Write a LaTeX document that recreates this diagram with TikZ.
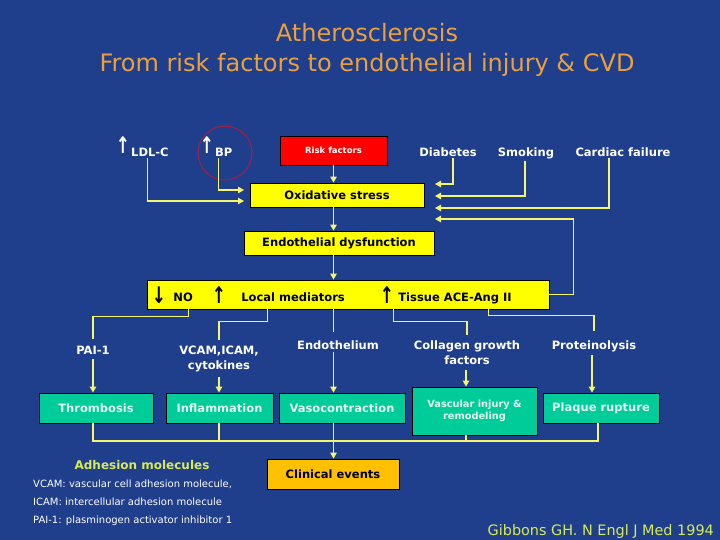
\documentclass[tikz,border=0pt]{standalone}
\usepackage{fontspec}
\setmainfont{DejaVu Sans}
\usepackage{graphicx}
\usetikzlibrary{arrows.meta,calc}

\definecolor{slidebg}{RGB}{31,62,140}
\definecolor{boxyel}{RGB}{255,255,0}
\definecolor{boxgreen}{RGB}{0,204,153}
\definecolor{boxred}{RGB}{255,0,0}
\definecolor{boxgold}{RGB}{255,192,0}
\definecolor{linkyel}{RGB}{245,245,110}
\definecolor{titleorange}{RGB}{235,160,60}
\definecolor{notegreen}{RGB}{215,235,90}
\definecolor{greentext}{RGB}{225,252,240}
\definecolor{ringred}{RGB}{165,30,70}

\newcommand{\uparr}{\scalebox{0.7}[0.95]{↑}}
\newcommand{\dnarr}{\scalebox{0.7}[0.95]{↓}}

\begin{document}
\begin{tikzpicture}[x=1pt, y=-1pt,
  link/.style={draw=linkyel, line width=1.1pt},
  flow/.style={link, -{Triangle[width=6.5pt,length=6pt]}},
  box/.style={draw=black, line width=0.8pt, inner sep=0pt, align=center,
    font=\bfseries\fontsize{11.5}{15}\selectfont},
  ybox/.style={box, fill=boxyel, text=black},
  gbox/.style={box, fill=boxgreen, text=greentext},
  lbl/.style={text=white, inner sep=1pt, align=center,
    font=\bfseries\fontsize{11.5}{15}\selectfont},
  sym/.style={inner sep=0pt, font=\bfseries\fontsize{24}{24}\selectfont},
  note/.style={text=white, font=\fontsize{10}{12}\selectfont, anchor=base west, inner sep=0pt}
]
\useasboundingbox[fill=slidebg] (0,0) rectangle (720,540);

% Title.
\node[text=titleorange, font=\fontsize{24}{28}\selectfont, anchor=base] (title1) at (367,42)
  {Atherosclerosis};
\node[text=titleorange, font=\fontsize{24}{28}\selectfont, anchor=base] (title2) at (367,72)
  {From risk factors to endothelial injury \& CVD};

% Risk factors row.
\node[sym, text=white, anchor=south] (ldlup) at (123,154) {\uparr};
\node[lbl, anchor=base west] (ldl) at (130,157) {LDL-C};
\node[sym, text=white, anchor=south] (bpup) at (207,154) {\uparr};
\node[lbl, anchor=base west] (bp) at (214,157) {BP};
\node[circle, draw=ringred, line width=1pt, minimum size=54, inner sep=0pt] (bpring) at (225,153) {};
\node[box, fill=boxred, text=white, minimum width=107, minimum height=29,
  font=\bfseries\fontsize{8.5}{10}\selectfont] (risk) at (333.5,150.5) {Risk factors};
\node[lbl, anchor=base] (diab) at (448,157) {Diabetes};
\node[lbl, anchor=base] (smok) at (526,157) {Smoking};
\node[lbl, anchor=base] (card) at (623,157) {Cardiac failure};

% Main chain.
\node[ybox, minimum width=174, minimum height=24] (ox) at (337,195) {Oxidative stress};
\node[ybox, minimum width=190, minimum height=24] (endo) at (339,243) {Endothelial dysfunction};
\node[ybox, minimum width=402, minimum height=29] (medbox) at (348,294.5) {};
\node[sym, anchor=south] (noarr) at (159,304) {\dnarr};
\node[box, draw=none, anchor=base west] (no) at (173,301) {NO};
\node[sym, anchor=south] (locup) at (219,304) {\uparr};
\node[box, draw=none, anchor=base west] (locmed) at (241,301) {Local mediators};
\node[sym, anchor=south] (tisup) at (387,304) {\uparr};
\node[box, draw=none, anchor=base west] (tissue) at (398,301) {Tissue ACE-Ang II};

\coordinate (ldlin) at (244,201);
\coordinate (bpin) at (244,190);
\coordinate (oxr1) at (435,184);
\coordinate (oxr2) at (435,196);
\coordinate (oxr3) at (435,208);
\coordinate (oxr4) at (435,219);

\draw[flow] ([xshift=-2pt]ldl.south) |- (ldlin);
\draw[flow] ([xshift=-5pt]bp.south) |- (bpin);
\draw[flow] ([xshift=5pt]diab.south) |- (oxr1);
\draw[flow] ([xshift=-1pt]smok.south) |- (oxr2);
\draw[flow] ([xshift=-14pt]card.south) |- (oxr3);
\draw[flow] (medbox.east) -- ++(24,0) |- (oxr4);

\draw[flow] (risk.south) -- (risk.south |- ox.north);
\draw[flow] (risk.south |- ox.south) -- (risk.south |- endo.north);
\draw[flow] (risk.south |- endo.south) -- (risk.south |- medbox.north);

% Mediators.
\node[lbl, anchor=base] (pai) at (93,354) {PAI-1};
\node[lbl, anchor=north] (vcam) at (219,345) {VCAM,ICAM,\\cytokines};
\node[lbl, anchor=base] (endoth) at (338,349) {Endothelium};
\node[lbl, anchor=north] (coll) at (467,340) {Collagen growth\\factors};
\node[lbl, anchor=base] (prot) at (594,349) {Proteinolysis};

\draw[link, shorten >=5pt] ([xshift=42pt]medbox.south west) -- ++(0,7) -| (pai.north);
\draw[link, shorten >=5pt] ([xshift=121pt]medbox.south west) -- ++(0,12) -| (vcam.north);
\draw[link, shorten >=7pt] (risk.south |- medbox.south) -- (risk.south |- endoth.north);
\draw[link, shorten >=5pt] ([xshift=247pt]medbox.south west) -- ++(0,12) -| (coll.north);
\draw[link, shorten >=8pt] ([xshift=342pt]medbox.south west) -- ++(0,6) -| (prot.north);

% Outcomes.
\node[gbox, minimum width=114, minimum height=30] (thromb) at (96,408) {Thrombosis};
\node[gbox, minimum width=107, minimum height=30] (inflam) at (219.5,408) {Inflammation};
\node[gbox, minimum width=126, minimum height=30] (vaso) at (342,408) {Vasocontraction};
\node[gbox, minimum width=125, minimum height=48, font=\bfseries\fontsize{9.8}{12}\selectfont]
  (vasinj) at (474.5,411) {Vascular injury \&\\remodeling};
\node[gbox, minimum width=116, minimum height=30] (plaque) at (601,408) {Plaque rupture};
\node[box, fill=boxgold, text=black, minimum width=132, minimum height=30] (clin) at (333,474)
  {Clinical events};

\draw[flow, shorten <=4pt] (pai.south) -- (pai.south |- thromb.north);
\draw[flow, shorten <=4pt] (vcam.south) -- (vcam.south |- inflam.north);
\draw[flow, shorten <=2pt] (risk.south |- endoth.south) -- (risk.south |- vaso.north);
\draw[flow, shorten <=4pt] ([xshift=-1pt]coll.south) -- ([xshift=-1pt]coll.south |- vasinj.north);
\draw[flow, shorten <=2pt] ([xshift=-2pt]prot.south) -- ([xshift=-2pt]prot.south |- plaque.north);

% Collector line.
\coordinate (bus) at (0,441);
\draw[link] (pai.south |- thromb.south) |- ([xshift=4pt]prot.south |- bus) -- ([xshift=4pt]prot.south |- plaque.south);
\draw[link] (vcam.south |- inflam.south) -- (vcam.south |- bus);
\draw[link] ([xshift=-1pt]coll.south |- vasinj.south) -- ([xshift=-1pt]coll.south |- bus);
\draw[flow] (risk.south |- vaso.south) -- (risk.south |- clin.north);

% Notes.
\node[text=notegreen, font=\bfseries\fontsize{12}{14}\selectfont, anchor=base] (adh) at (142,469)
  {Adhesion molecules};
\node[note] (vcamdef) at (33,487) {VCAM: vascular cell adhesion molecule,};
\node[note] (icamdef) at (33,505) {ICAM: intercellular adhesion molecule};
\node[note] (paidef) at (33,523) {PAI-1: plasminogen activator inhibitor 1};
\node[text=notegreen, font=\fontsize{14.4}{17}\selectfont, anchor=base east, inner sep=0pt] (cite) at (714,535)
  {Gibbons GH. N Engl J Med 1994};

\end{tikzpicture}
\end{document}
